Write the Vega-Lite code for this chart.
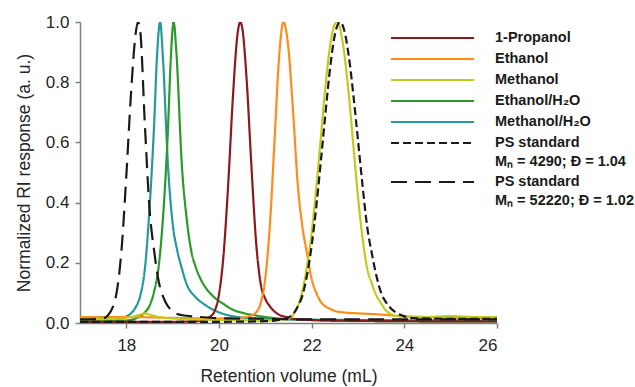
{
  "$schema": "https://vega.github.io/schema/vega-lite/v6.json",
  "width": 417,
  "height": 301,
  "autosize": "none",
  "padding": {"left": 80, "top": 22, "right": 138, "bottom": 64},
  "background": "white",
  "config": {
    "view": {"stroke": null},
    "font": "Liberation Sans",
    "style": {"guide-label": {"lineHeight": 19}},
    "legend": {
      "orient": "none",
      "legendX": 310,
      "legendY": 8,
      "padding": 0,
      "symbolType": "stroke",
      "symbolSize": 6889,
      "symbolStrokeWidth": 2,
      "clipHeight": 16,
      "labelFont": "Liberation Sans",
      "labelFontSize": 14.5,
      "labelFontWeight": "bold",
      "labelColor": "#1a1a1a",
      "labelOffset": 20,
      "labelLimit": 300,
      "rowPadding": 5
    }
  },
  "data": {"values": [
    {"s":"Methanol/H₂O","x":17,"y":0.01},{"s":"Methanol/H₂O","x":17.5,"y":0.01},{"s":"Methanol/H₂O","x":17.8,"y":0.012},{"s":"Methanol/H₂O","x":18.0,"y":0.022},{"s":"Methanol/H₂O","x":18.1,"y":0.032},{"s":"Methanol/H₂O","x":18.2,"y":0.052},{"s":"Methanol/H₂O","x":18.3,"y":0.09},{"s":"Methanol/H₂O","x":18.4,"y":0.18},{"s":"Methanol/H₂O","x":18.5,"y":0.38},{"s":"Methanol/H₂O","x":18.6,"y":0.66},{"s":"Methanol/H₂O","x":18.66,"y":0.88},{"s":"Methanol/H₂O","x":18.73,"y":1.0},{"s":"Methanol/H₂O","x":18.79,"y":0.88},{"s":"Methanol/H₂O","x":18.9,"y":0.52},{"s":"Methanol/H₂O","x":19.0,"y":0.33},{"s":"Methanol/H₂O","x":19.1,"y":0.24},{"s":"Methanol/H₂O","x":19.2,"y":0.18},{"s":"Methanol/H₂O","x":19.3,"y":0.13},{"s":"Methanol/H₂O","x":19.5,"y":0.085},{"s":"Methanol/H₂O","x":19.7,"y":0.06},{"s":"Methanol/H₂O","x":19.9,"y":0.042},{"s":"Methanol/H₂O","x":20.1,"y":0.03},{"s":"Methanol/H₂O","x":20.4,"y":0.02},{"s":"Methanol/H₂O","x":20.8,"y":0.015},{"s":"Methanol/H₂O","x":21.5,"y":0.012},{"s":"Methanol/H₂O","x":23,"y":0.01},{"s":"Methanol/H₂O","x":26,"y":0.008},
    {"s":"Ethanol/H₂O","x":17,"y":0.005},{"s":"Ethanol/H₂O","x":18,"y":0.008},{"s":"Ethanol/H₂O","x":18.2,"y":0.015},{"s":"Ethanol/H₂O","x":18.3,"y":0.022},{"s":"Ethanol/H₂O","x":18.4,"y":0.035},{"s":"Ethanol/H₂O","x":18.5,"y":0.057},{"s":"Ethanol/H₂O","x":18.6,"y":0.105},{"s":"Ethanol/H₂O","x":18.7,"y":0.19},{"s":"Ethanol/H₂O","x":18.8,"y":0.37},{"s":"Ethanol/H₂O","x":18.9,"y":0.65},{"s":"Ethanol/H₂O","x":18.96,"y":0.88},{"s":"Ethanol/H₂O","x":19.02,"y":1.0},{"s":"Ethanol/H₂O","x":19.08,"y":0.9},{"s":"Ethanol/H₂O","x":19.2,"y":0.52},{"s":"Ethanol/H₂O","x":19.3,"y":0.35},{"s":"Ethanol/H₂O","x":19.4,"y":0.24},{"s":"Ethanol/H₂O","x":19.5,"y":0.185},{"s":"Ethanol/H₂O","x":19.6,"y":0.147},{"s":"Ethanol/H₂O","x":19.7,"y":0.12},{"s":"Ethanol/H₂O","x":19.9,"y":0.085},{"s":"Ethanol/H₂O","x":20.1,"y":0.063},{"s":"Ethanol/H₂O","x":20.3,"y":0.044},{"s":"Ethanol/H₂O","x":20.5,"y":0.034},{"s":"Ethanol/H₂O","x":20.8,"y":0.025},{"s":"Ethanol/H₂O","x":21.2,"y":0.016},{"s":"Ethanol/H₂O","x":22,"y":0.01},{"s":"Ethanol/H₂O","x":23,"y":0.007},{"s":"Ethanol/H₂O","x":26,"y":0.005},
    {"s":"1-Propanol","x":17,"y":0.004},{"s":"1-Propanol","x":19,"y":0.004},{"s":"1-Propanol","x":19.5,"y":0.006},{"s":"1-Propanol","x":19.7,"y":0.012},{"s":"1-Propanol","x":19.8,"y":0.02},{"s":"1-Propanol","x":19.9,"y":0.038},{"s":"1-Propanol","x":20.0,"y":0.095},{"s":"1-Propanol","x":20.1,"y":0.23},{"s":"1-Propanol","x":20.2,"y":0.465},{"s":"1-Propanol","x":20.3,"y":0.75},{"s":"1-Propanol","x":20.4,"y":0.96},{"s":"1-Propanol","x":20.46,"y":1.0},{"s":"1-Propanol","x":20.5,"y":0.982},{"s":"1-Propanol","x":20.6,"y":0.8},{"s":"1-Propanol","x":20.7,"y":0.52},{"s":"1-Propanol","x":20.8,"y":0.27},{"s":"1-Propanol","x":20.9,"y":0.13},{"s":"1-Propanol","x":21.0,"y":0.08},{"s":"1-Propanol","x":21.1,"y":0.055},{"s":"1-Propanol","x":21.2,"y":0.038},{"s":"1-Propanol","x":21.3,"y":0.027},{"s":"1-Propanol","x":21.45,"y":0.02},{"s":"1-Propanol","x":21.7,"y":0.012},{"s":"1-Propanol","x":22.5,"y":0.008},{"s":"1-Propanol","x":24,"y":0.006},{"s":"1-Propanol","x":26,"y":0.005},
    {"s":"Ethanol","x":17,"y":0.02},{"s":"Ethanol","x":18,"y":0.02},{"s":"Ethanol","x":19,"y":0.017},{"s":"Ethanol","x":20,"y":0.015},{"s":"Ethanol","x":20.4,"y":0.016},{"s":"Ethanol","x":20.5,"y":0.018},{"s":"Ethanol","x":20.7,"y":0.025},{"s":"Ethanol","x":20.8,"y":0.035},{"s":"Ethanol","x":20.9,"y":0.066},{"s":"Ethanol","x":21.0,"y":0.15},{"s":"Ethanol","x":21.1,"y":0.33},{"s":"Ethanol","x":21.2,"y":0.61},{"s":"Ethanol","x":21.3,"y":0.89},{"s":"Ethanol","x":21.39,"y":1.0},{"s":"Ethanol","x":21.5,"y":0.91},{"s":"Ethanol","x":21.6,"y":0.7},{"s":"Ethanol","x":21.7,"y":0.46},{"s":"Ethanol","x":21.8,"y":0.32},{"s":"Ethanol","x":21.9,"y":0.23},{"s":"Ethanol","x":22.0,"y":0.145},{"s":"Ethanol","x":22.1,"y":0.1},{"s":"Ethanol","x":22.2,"y":0.07},{"s":"Ethanol","x":22.3,"y":0.055},{"s":"Ethanol","x":22.4,"y":0.047},{"s":"Ethanol","x":22.5,"y":0.04},{"s":"Ethanol","x":22.7,"y":0.035},{"s":"Ethanol","x":23.0,"y":0.032},{"s":"Ethanol","x":23.5,"y":0.028},{"s":"Ethanol","x":24,"y":0.022},{"s":"Ethanol","x":25,"y":0.018},{"s":"Ethanol","x":26,"y":0.016},
    {"s":"Methanol","x":17,"y":0.012},{"s":"Methanol","x":17.8,"y":0.014},{"s":"Methanol","x":18.1,"y":0.02},{"s":"Methanol","x":18.3,"y":0.028},{"s":"Methanol","x":18.4,"y":0.032},{"s":"Methanol","x":18.5,"y":0.028},{"s":"Methanol","x":18.7,"y":0.02},{"s":"Methanol","x":19,"y":0.015},{"s":"Methanol","x":20,"y":0.01},{"s":"Methanol","x":21,"y":0.008},{"s":"Methanol","x":21.3,"y":0.01},{"s":"Methanol","x":21.5,"y":0.015},{"s":"Methanol","x":21.6,"y":0.027},{"s":"Methanol","x":21.7,"y":0.056},{"s":"Methanol","x":21.8,"y":0.107},{"s":"Methanol","x":21.9,"y":0.19},{"s":"Methanol","x":22.0,"y":0.3},{"s":"Methanol","x":22.1,"y":0.45},{"s":"Methanol","x":22.2,"y":0.62},{"s":"Methanol","x":22.3,"y":0.79},{"s":"Methanol","x":22.4,"y":0.923},{"s":"Methanol","x":22.5,"y":0.993},{"s":"Methanol","x":22.54,"y":1.0},{"s":"Methanol","x":22.6,"y":0.985},{"s":"Methanol","x":22.7,"y":0.9},{"s":"Methanol","x":22.8,"y":0.76},{"s":"Methanol","x":22.9,"y":0.59},{"s":"Methanol","x":23.0,"y":0.42},{"s":"Methanol","x":23.1,"y":0.28},{"s":"Methanol","x":23.2,"y":0.18},{"s":"Methanol","x":23.3,"y":0.13},{"s":"Methanol","x":23.4,"y":0.09},{"s":"Methanol","x":23.5,"y":0.065},{"s":"Methanol","x":23.6,"y":0.042},{"s":"Methanol","x":23.7,"y":0.03},{"s":"Methanol","x":23.9,"y":0.022},{"s":"Methanol","x":24.5,"y":0.02},{"s":"Methanol","x":25,"y":0.023},{"s":"Methanol","x":25.5,"y":0.02},{"s":"Methanol","x":26,"y":0.02},
    {"s":"PS 52220","x":17,"y":0.012},{"s":"PS 52220","x":17.4,"y":0.013},{"s":"PS 52220","x":17.5,"y":0.015},{"s":"PS 52220","x":17.6,"y":0.025},{"s":"PS 52220","x":17.7,"y":0.05},{"s":"PS 52220","x":17.8,"y":0.11},{"s":"PS 52220","x":17.9,"y":0.25},{"s":"PS 52220","x":18.0,"y":0.49},{"s":"PS 52220","x":18.1,"y":0.76},{"s":"PS 52220","x":18.2,"y":0.96},{"s":"PS 52220","x":18.25,"y":1.0},{"s":"PS 52220","x":18.3,"y":0.97},{"s":"PS 52220","x":18.4,"y":0.66},{"s":"PS 52220","x":18.5,"y":0.38},{"s":"PS 52220","x":18.6,"y":0.24},{"s":"PS 52220","x":18.7,"y":0.137},{"s":"PS 52220","x":18.8,"y":0.085},{"s":"PS 52220","x":18.9,"y":0.055},{"s":"PS 52220","x":19.0,"y":0.04},{"s":"PS 52220","x":19.1,"y":0.03},{"s":"PS 52220","x":19.3,"y":0.024},{"s":"PS 52220","x":19.6,"y":0.02},{"s":"PS 52220","x":20,"y":0.016},{"s":"PS 52220","x":21,"y":0.014},{"s":"PS 52220","x":22,"y":0.012},{"s":"PS 52220","x":24,"y":0.012},{"s":"PS 52220","x":26,"y":0.012},
    {"s":"PS 4290","x":17,"y":0.004},{"s":"PS 4290","x":20,"y":0.004},{"s":"PS 4290","x":21,"y":0.006},{"s":"PS 4290","x":21.3,"y":0.01},{"s":"PS 4290","x":21.5,"y":0.018},{"s":"PS 4290","x":21.6,"y":0.03},{"s":"PS 4290","x":21.7,"y":0.055},{"s":"PS 4290","x":21.8,"y":0.091},{"s":"PS 4290","x":21.9,"y":0.159},{"s":"PS 4290","x":22.0,"y":0.257},{"s":"PS 4290","x":22.1,"y":0.387},{"s":"PS 4290","x":22.2,"y":0.54},{"s":"PS 4290","x":22.3,"y":0.7},{"s":"PS 4290","x":22.4,"y":0.85},{"s":"PS 4290","x":22.5,"y":0.957},{"s":"PS 4290","x":22.61,"y":1.0},{"s":"PS 4290","x":22.7,"y":0.974},{"s":"PS 4290","x":22.8,"y":0.888},{"s":"PS 4290","x":22.9,"y":0.758},{"s":"PS 4290","x":23.0,"y":0.607},{"s":"PS 4290","x":23.1,"y":0.454},{"s":"PS 4290","x":23.2,"y":0.318},{"s":"PS 4290","x":23.3,"y":0.23},{"s":"PS 4290","x":23.4,"y":0.155},{"s":"PS 4290","x":23.5,"y":0.1},{"s":"PS 4290","x":23.6,"y":0.07},{"s":"PS 4290","x":23.7,"y":0.05},{"s":"PS 4290","x":23.8,"y":0.037},{"s":"PS 4290","x":23.9,"y":0.028},{"s":"PS 4290","x":24.0,"y":0.022},{"s":"PS 4290","x":24.2,"y":0.016},{"s":"PS 4290","x":25,"y":0.014},{"s":"PS 4290","x":26,"y":0.014}
  ]},
  "mark": {"type": "line", "strokeWidth": 2.2, "interpolate": "monotone", "clip": true},
  "encoding": {
    "x": {
      "field": "x", "type": "quantitative",
      "scale": {"domain": [17, 26], "nice": false, "zero": false},
      "axis": {
        "title": "Retention volume (mL)", "values": [18, 20, 22, 24, 26], "grid": false,
        "domainColor": "#808080", "domainWidth": 1.5, "tickColor": "#808080", "tickWidth": 1.5, "tickSize": 5,
        "labelFont": "Liberation Sans", "labelFontSize": 17, "labelColor": "#262626", "labelPadding": 9,
        "titleFont": "Liberation Sans", "titleFontSize": 17.5, "titleFontWeight": "normal", "titleColor": "#262626", "titlePadding": 14
      }
    },
    "y": {
      "field": "y", "type": "quantitative",
      "scale": {"domain": [0, 1], "nice": false},
      "axis": {
        "title": "Normalized RI response (a. u.)", "values": [0, 0.2, 0.4, 0.6, 0.8, 1], "format": ".1f", "grid": false,
        "domainColor": "#808080", "domainWidth": 1.5, "tickColor": "#808080", "tickWidth": 1.5, "tickSize": 5,
        "labelFont": "Liberation Sans", "labelFontSize": 17, "labelColor": "#262626", "labelPadding": 6,
        "titleFont": "Liberation Sans", "titleFontSize": 17.5, "titleFontWeight": "normal", "titleColor": "#262626", "titlePadding": 12
      }
    },
    "color": {
      "field": "s", "type": "nominal",
      "scale": {
        "domain": ["1-Propanol", "Ethanol", "Methanol", "Ethanol/H₂O", "Methanol/H₂O", "PS 4290", "PS 52220"],
        "range": ["#8b1a1f", "#ff8c1a", "#c4ca1d", "#2b9a2b", "#26999b", "#1a1a1a", "#1a1a1a"]
      },
      "legend": {
        "title": null,
        "labelExpr": "datum.label == 'PS 4290' ? ['PS standard', 'Mₙ = 4290; Đ = 1.04'] : datum.label == 'PS 52220' ? ['PS standard', 'Mₙ = 52220; Đ = 1.02'] : datum.label"
      }
    },
    "strokeDash": {
      "field": "s", "type": "nominal",
      "scale": {
        "domain": ["1-Propanol", "Ethanol", "Methanol", "Ethanol/H₂O", "Methanol/H₂O", "PS 4290", "PS 52220"],
        "range": [[1, 0], [1, 0], [1, 0], [1, 0], [1, 0], [8, 4], [16, 8]]
      },
      "legend": {
        "title": null,
        "labelExpr": "datum.label == 'PS 4290' ? ['PS standard', 'Mₙ = 4290; Đ = 1.04'] : datum.label == 'PS 52220' ? ['PS standard', 'Mₙ = 52220; Đ = 1.02'] : datum.label"
      }
    }
  }
}
